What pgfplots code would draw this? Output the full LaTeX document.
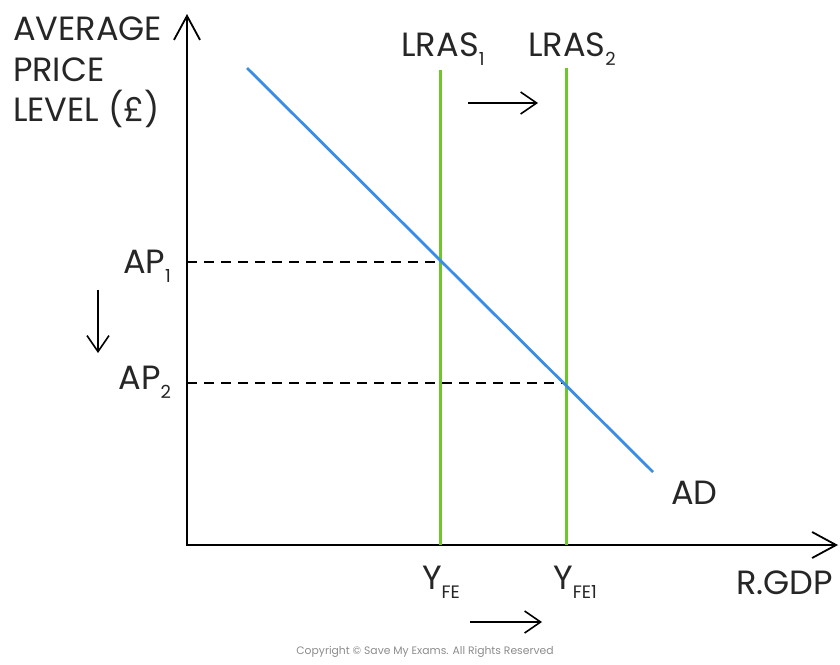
\documentclass[border=0pt]{standalone}
\usepackage{pgfplots}
\pgfplotsset{compat=1.18}
\usepackage{fontspec}
\setmainfont{Poppins}
\usetikzlibrary{arrows.meta}
\definecolor{adblue}{HTML}{3A8DE6}
\definecolor{lrasgreen}{HTML}{6CC72A}
\newcommand{\lbl}{\fontsize{16.8}{19}\selectfont}
\newcommand{\sub}[1]{\raisebox{-0.5ex}{\fontsize{9}{10}\selectfont #1}}
\begin{document}
\begin{tikzpicture}
\begin{axis}[
  scale only axis, width=420pt, height=330pt,
  xmin=0, xmax=840, ymin=0, ymax=660,
  hide axis, clip=false,
]
\path (rel axis cs:0,0) rectangle (rel axis cs:1,1);
% axes
\addplot[black, line width=1pt, -{Straight Barb[length=12pt,width=13pt,line width=0.9pt]}] coordinates {(187,114) (187,646)};
\addplot[black, line width=1pt, -{Straight Barb[length=12pt,width=13pt,line width=0.9pt]}] coordinates {(186,115) (838,115)};
% dashed
\addplot[black, line width=0.8pt, dash pattern=on 5pt off 3.5pt] coordinates {(187,398) (440,398)};
\addplot[black, line width=0.8pt, dash pattern=on 5pt off 3.5pt] coordinates {(187,277) (566,277)};
% LRAS
\addplot[lrasgreen, line width=1.5pt] coordinates {(440,115) (440,590)};
\addplot[lrasgreen, line width=1.5pt] coordinates {(566,115) (566,592)};
% AD
\addplot[adblue, line width=1.4pt] coordinates {(247,592) (653,188)};
% shift arrows
\addplot[black, line width=0.8pt, -{Straight Barb[length=8pt,width=11pt,line width=0.8pt]}] coordinates {(468,557) (538,557)};
\addplot[black, line width=0.8pt, -{Straight Barb[length=8pt,width=11pt,line width=0.8pt]}] coordinates {(470,38) (542,38)};
\addplot[black, line width=0.8pt, -{Straight Barb[length=8pt,width=11pt,line width=0.8pt]}] coordinates {(98,370) (98,307)};
% labels
\node[anchor=west, text=black!85, font=\lbl] at (axis cs:6,631) {AVERAGE};
\node[anchor=west, text=black!85, font=\lbl] at (axis cs:6,590) {PRICE};
\node[anchor=west, text=black!85, font=\lbl] at (axis cs:6,551) {LEVEL (£)};
\node[text=black!85, font=\lbl] at (axis cs:443,611) {LRAS\sub{1}};
\node[text=black!85, font=\lbl] at (axis cs:572,611) {LRAS\sub{2}};
\node[anchor=east, text=black!85, font=\lbl] at (axis cs:178,394) {AP\sub{1}};
\node[anchor=east, text=black!85, font=\lbl] at (axis cs:178,278) {AP\sub{2}};
\node[anchor=west, text=black!85, font=\lbl] at (axis cs:664,167) {AD};
\node[text=black!85, font=\lbl] at (axis cs:441,78) {Y\sub{FE}};
\node[text=black!85, font=\lbl] at (axis cs:575,78) {Y\sub{FE1}};
\node[anchor=east, text=black!85, font=\lbl] at (axis cs:840,77) {R.GDP};
\node[font=\fontsize{5.4}{6}\selectfont, text=black!45] at (axis cs:425,8) {Copyright © Save My Exams. All Rights Reserved};
\end{axis}
\end{tikzpicture}
\end{document}
